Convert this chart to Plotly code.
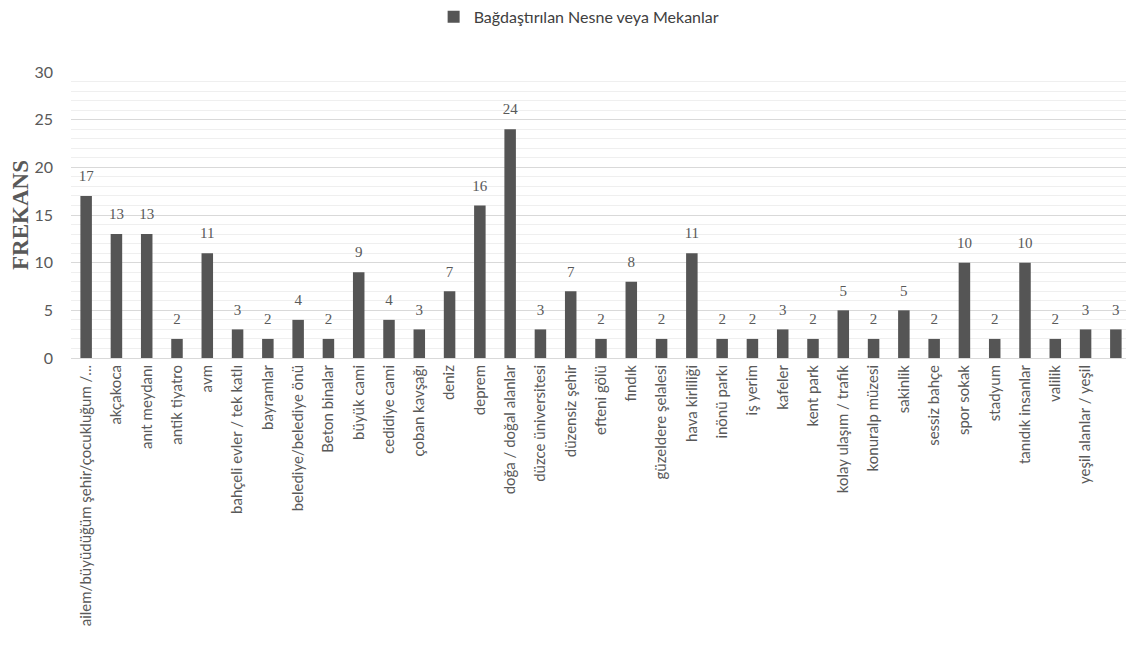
import plotly.graph_objects as go

categories = [
    "ailem/büyüdüğüm şehir/çocukluğum /...", "akçakoca", "anıt meydanı", "antik tiyatro", "avm",
    "bahçeli evler / tek katlı", "bayramlar", "belediye/belediye önü", "Beton binalar", "büyük cami",
    "cedidiye cami", "çoban kavşağı", "deniz", "deprem", "doğa / doğal alanlar",
    "düzce üniversitesi", "düzensiz şehir", "efteni gölü", "fındık", "güzeldere şelalesi",
    "hava kirliliği", "inönü parkı", "iş yerim", "kafeler", "kent park",
    "kolay ulaşım / trafik", "konuralp müzesi", "sakinlik", "sessiz bahçe", "spor sokak",
    "stadyum", "tanıdık insanlar", "valilik", "yeşil alanlar / yeşil", " ",
]
values = [17, 13, 13, 2, 11, 3, 2, 4, 2, 9,
          4, 3, 7, 16, 24, 3, 7, 2, 8, 2,
          11, 2, 2, 3, 2, 5, 2, 5, 2, 10,
          2, 10, 2, 3, 3]
series_name = "Bağdaştırılan Nesne veya Mekanlar"
y_title = "FREKANS"
y_ticks = [0, 5, 10, 15, 20, 25, 30]

SANS = "Lato, Open Sans, sans-serif"
SERIF = "Liberation Serif, DejaVu Serif, serif"
GREY = "#595959"

xs = list(range(len(categories)))

fig = go.Figure()
fig.add_trace(go.Bar(
    x=xs,
    y=values,
    name=series_name,
    marker=dict(color="#555555", line=dict(width=0)),
    width=0.38,
    showlegend=True,
    hoverinfo="x+y",
))
# value labels above bars
fig.add_trace(go.Scatter(
    x=xs,
    y=values,
    mode="markers+text",
    marker=dict(size=16, opacity=0),
    text=[str(v) for v in values],
    textposition="top center",
    textfont=dict(family=SERIF, size=15, color=GREY),
    showlegend=False,
    hoverinfo="skip",
    cliponaxis=False,
))

fig.update_layout(
    width=1126, height=638,
    paper_bgcolor="white", plot_bgcolor="white",
    margin=dict(l=63, r=3, t=64, b=288, autoexpand=False),
    showlegend=True,
    legend=dict(orientation="h", xref="container", yref="container",
                x=0.378, xanchor="left", y=0.986, yanchor="middle",
                font=dict(family=SANS, size=16, color="#404040"),
                itemwidth=30),
    xaxis=dict(
        tickmode="array",
        tickvals=xs,
        ticktext=categories,
        tickangle=-90,
        range=[-0.5, len(categories) - 0.5],
        tickfont=dict(family=SANS, size=15, color=GREY),
        showline=True, linecolor="#d9d9d9", linewidth=1,
        ticks="", showgrid=False, automargin=False, zeroline=False,
    ),
    yaxis=dict(
        range=[0, 30],
        tickvals=y_ticks,
        tickfont=dict(family=SANS, size=16, color=GREY),
        showgrid=True, gridcolor="#d9d9d9", gridwidth=1,
        minor=dict(dtick=1, showgrid=True, gridcolor="#efefef", gridwidth=1),
        zeroline=False,
        ticks="", ticklabelstandoff=17,
        title=dict(text="<b>" + y_title + "</b>", standoff=3,
                   font=dict(family=SERIF, size=23, color=GREY)),
        automargin=False,
    ),
)

fig.write_html("out.html")
